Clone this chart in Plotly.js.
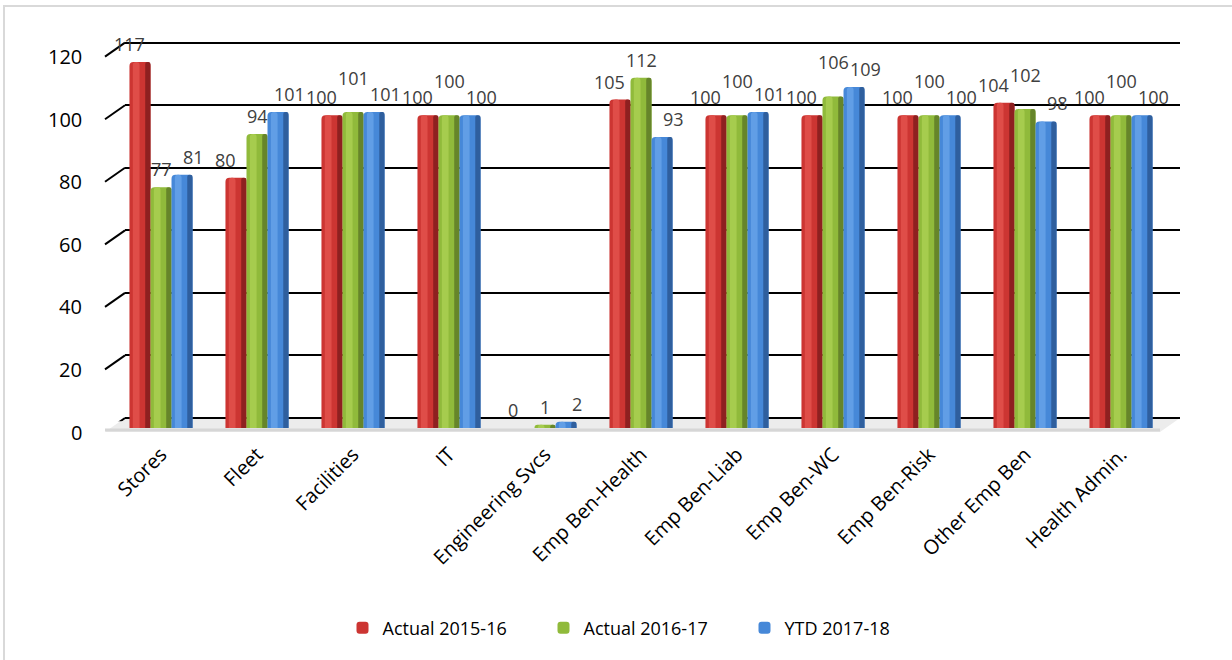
<!DOCTYPE html>
<html>
<head>
<meta charset="utf-8">
<script src="https://cdn.plot.ly/plotly-3.0.1.min.js"></script>
<style>
  html, body { margin: 0; padding: 0; background: #ffffff; }
  #chart { width: 1232px; height: 660px; }
</style>
</head>
<body>
<div id="chart"></div>
<script>
// Departments and yearly values
const categories = ['Stores', 'Fleet', 'Facilities', 'IT', 'Engineering Svcs', 'Emp Ben-Health',
                    'Emp Ben-Liab', 'Emp Ben-WC', 'Emp Ben-Risk', 'Other Emp Ben', 'Health Admin.'];
const actual1516 = [117, 80, 100, 100, 0, 105, 100, 100, 100, 104, 100];
const actual1617 = [77, 94, 101, 100, 1, 112, 100, 106, 100, 102, 100];
const ytd1718   = [81, 101, 101, 100, 2, 93, 101, 109, 100, 98, 100];
const seriesNames = ['Actual 2015-16', 'Actual 2016-17', 'YTD 2017-18'];
const yTicks = [0, 20, 40, 60, 80, 100, 120];

// Page geometry helpers (pixel -> paper fraction)
const W = 1232, H = 660;
const px = v => v / W;
const py = v => 1 - v / H;

const FONT = 'Open Sans, Noto Sans, sans-serif';

// Per series: base colour, light highlight, dark side shade
const palette = [
  { base: '#cc3532', light: '#df4d48', dark: '#8e2020' },
  { base: '#90ba3b', light: '#a6cc4e', dark: '#66852a' },
  { base: '#4688d8', light: '#619ee6', dark: '#2f5f9e' }
];

const barW = 0.219;                 // one bar, in category units
const groupLeft = -1.5 * barW;      // left edge of first bar in a group
const seriesValues = [actual1516, actual1617, ytd1718];

const traces = [];
seriesValues.forEach((vals, s) => {
  const left = groupLeft + s * barW;
  // main cylinder body
  traces.push({
    type: 'bar', name: seriesNames[s], x: categories, y: vals,
    xaxis: 'x2', yaxis: 'y2',
    offset: left, width: barW,
    marker: { color: palette[s].base, cornerradius: 4, line: { width: 0 } },
    hoverinfo: 'x+y+name'
  });
  // highlight band on the lit side
  traces.push({
    type: 'bar', name: seriesNames[s] + ' hl', x: categories, y: vals,
    xaxis: 'x2', yaxis: 'y2',
    offset: left + 0.035, width: 0.07,
    marker: { color: palette[s].light, cornerradius: 3, line: { width: 0 } },
    showlegend: false, hoverinfo: 'skip'
  });
  // shaded right side
  traces.push({
    type: 'bar', name: seriesNames[s] + ' sd', x: categories, y: vals,
    xaxis: 'x2', yaxis: 'y2',
    offset: left + barW - 0.055, width: 0.055,
    marker: { color: palette[s].dark, cornerradius: 3, line: { width: 0 } },
    showlegend: false, hoverinfo: 'skip'
  });
});

// Value labels above each bar; the middle label is lifted when its
// neighbours sit at nearly the same height so the numbers stay readable
const labelShift = [-32, 0, 32];
const annotations = [];
seriesValues.forEach((vals, s) => {
  vals.forEach((v, i) => {
    let lift = 18;
    if (s === 1) {
      const close = Math.abs(v - actual1516[i]) <= 3 || Math.abs(v - ytd1718[i]) <= 3;
      if (close && v > 5) lift = 34;
    }
    annotations.push({
      xref: 'x2', yref: 'y2', x: categories[i], y: v,
      text: String(v), showarrow: false,
      xshift: labelShift[s], yshift: lift, yanchor: 'middle',
      font: { family: FONT, size: 18, color: '#404040' }
    });
  });
});

// Value-axis labels, placed on the front edge of the wall
yTicks.forEach(v => {
  annotations.push({
    xref: 'paper', yref: 'y2', x: px(84), y: v, xanchor: 'right', yanchor: 'middle',
    yshift: -4, text: String(v), showarrow: false,
    font: { family: FONT, size: 20, color: '#000000' }
  });
});

// Back-wall geometry
const backL = 125, backR = 1180, back0 = 418;
const frontL = 105, frontR = 1160, front0 = 432;
const depthX = backL - frontL, depthY = front0 - back0;

const shapes = [];
// floor
shapes.push({
  type: 'path', xref: 'paper', yref: 'paper', layer: 'below',
  path: `M${px(backL)},${py(back0)} L${px(backR)},${py(back0)} L${px(frontR)},${py(front0)} L${px(frontL)},${py(front0)} Z`,
  fillcolor: '#ececec', line: { width: 0 }
});
shapes.push({
  type: 'line', xref: 'paper', yref: 'paper', layer: 'below',
  x0: px(frontL), x1: px(frontR), y0: py(front0 - 2), y1: py(front0 - 2),
  line: { color: '#d6d6d6', width: 3 }
});
// slanted wall ticks joining the value labels to the back gridlines
yTicks.forEach(v => {
  shapes.push({
    type: 'line', xref: 'paper', yref: 'y',
    xsizemode: 'pixel', xanchor: px(backL), x0: -depthX, x1: 0,
    ysizemode: 'pixel', yanchor: v, y0: -depthY, y1: 0,
    line: { color: '#000000', width: 2 }
  });
});
// chart-area frame (top and left edges)
shapes.push({
  type: 'path', xref: 'paper', yref: 'paper', layer: 'above',
  path: `M${px(4)},0 L${px(4)},${py(6)} L1,${py(6)}`,
  line: { color: '#d9d9d9', width: 2 }
});

const pxPerUnit = 3.128;
const gridLo = -1, gridHi = 121;

const layout = {
  width: W, height: H,
  margin: { l: 0, r: 0, t: 0, b: 0, pad: 0 },
  paper_bgcolor: '#ffffff', plot_bgcolor: 'rgba(0,0,0,0)',
  font: { family: FONT, size: 18, color: '#000000' },
  barmode: 'overlay',
  showlegend: true,
  legend: {
    orientation: 'h', x: px(644), xanchor: 'center', y: py(628), yanchor: 'middle',
    font: { family: FONT, size: 18, color: '#000000' },
    itemwidth: 30, traceorder: 'normal', bgcolor: 'rgba(0,0,0,0)',
    entrywidth: 156, entrywidthmode: 'pixels'
  },
  // back wall gridlines
  xaxis: {
    domain: [px(backL), px(backR)], anchor: 'y', visible: false, range: [0, 1]
  },
  yaxis: {
    domain: [py(back0 + (0 - gridLo) * pxPerUnit), py(back0 - gridHi * pxPerUnit)],
    anchor: 'x', range: [gridLo, gridHi], tickvals: yTicks,
    showticklabels: false, ticks: '', showline: false, zeroline: false,
    showgrid: true, gridcolor: '#000000', gridwidth: 2
  },
  // bars
  xaxis2: {
    domain: [px(161 - 0.6 * 96), px(161 + 10.6 * 96)], anchor: 'y2',
    range: [-0.6, 10.6], type: 'category',
    showgrid: false, zeroline: false, showline: false,
    ticks: 'outside', ticklen: 6, tickcolor: 'rgba(0,0,0,0)',
    tickangle: -45, tickfont: { family: FONT, size: 20, color: '#000000' }
  },
  yaxis2: {
    domain: [py(428), py(428 - 120 * pxPerUnit)], anchor: 'x2',
    range: [0, 120], visible: false
  },
  shapes: shapes,
  annotations: annotations
};

Plotly.newPlot('chart', traces, layout, { staticPlot: true, displayModeBar: false });
</script>
</body>
</html>
